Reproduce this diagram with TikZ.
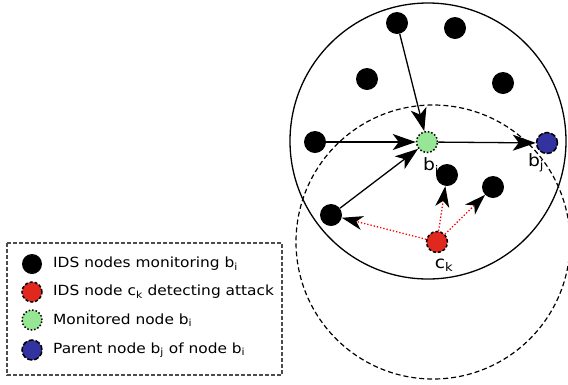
\documentclass[tikz,border=0pt]{standalone}
\usepackage{fontspec}
\setmainfont{DejaVu Sans}
\newfontfamily\widefont[FakeStretch=1.1]{DejaVu Sans}
\usetikzlibrary{arrows.meta}
\definecolor{ngreen}{RGB}{150,230,150}
\definecolor{nred}{RGB}{225,40,30}
\definecolor{nblue}{RGB}{50,50,160}
\tikzset{
  ids/.style={circle,fill=black,minimum size=22pt,inner sep=0pt},
  mon/.style={circle,fill=ngreen,draw=black,dotted,line width=1.5pt,minimum size=21pt,inner sep=0pt},
  par/.style={circle,fill=nblue,draw=black,dash pattern=on 5pt off 2pt,line width=1.5pt,minimum size=21pt,inner sep=0pt},
  det/.style={circle,fill=nred,draw=black,dash pattern=on 3pt off 2pt,line width=1.5pt,minimum size=21pt,inner sep=0pt},
  arr/.style={line width=1.3pt,-{Stealth[length=23pt,width=16pt,inset=6pt]}},
  rarr/.style={red,dotted,line width=1.3pt,-{Stealth[black,length=21pt,width=14pt,inset=6pt]}},
  lab/.style={font=\widefont\fontsize{17}{19}\selectfont,inner sep=0pt},
  legtext/.style={font=\widefont\fontsize{14}{16}\selectfont,anchor=west,inner sep=0pt},
}
\begin{document}
\begin{tikzpicture}[x=1pt,y=-1pt]
\useasboundingbox (0,0) rectangle (568,384);
% circles
\draw[line width=1.3pt] (428,141) circle (138);
\draw[line width=1.2pt,dash pattern=on 5pt off 3pt] (433,242) circle (137);
% nodes
\node[ids] (n1) at (397,23) {};
\node[ids] (n2) at (455,28) {};
\node[ids] (n3) at (367,79) {};
\node[ids] (n4) at (503,83) {};
\node[ids] (n5) at (315,142) {};
\node[mon] (bi) at (427,142) {};
\node[par] (bj) at (547,143) {};
\node[ids] (n6) at (447,175) {};
\node[ids] (n7) at (493,187) {};
\node[ids] (n8) at (331,215) {};
\node[det] (ck) at (437,242) {};
% labels
\node[lab] (lbi) at (431,166) {b\textsubscript{i}};
\node[lab] (lbj) at (536,163) {b\textsubscript{j}};
\node[lab] (lck) at (444,265) {c\textsubscript{k}};
% arrows
\draw[arr] (n1) -- (bi);
\draw[arr] (n5) -- (bi);
\draw[arr] (n8) -- (bi);
\draw[arr] (bi) -- (bj);
\draw[rarr] (ck) -- (n8);
\draw[rarr] (ck) -- (n6);
\draw[rarr] (ck) -- (n7);
% legend
\draw[line width=1.1pt,dash pattern=on 4pt off 2pt,draw=black!70] (7,243) rectangle (282,375);
\node[ids,minimum size=20pt] (l1) at (32,264) {};
\node[det,minimum size=20pt] (l2) at (32,292) {};
\node[mon,minimum size=20pt] (l3) at (32,320) {};
\node[par,minimum size=20pt] (l4) at (32,350) {};
\node[legtext] (t1) at (53,264) {IDS nodes monitoring b\textsubscript{i}};
\node[legtext] (t2) at (53,292) {IDS node c\textsubscript{k} detecting attack};
\node[legtext] (t3) at (53,320) {Monitored node b\textsubscript{i}};
\node[legtext] (t4) at (53,350) {Parent node b\textsubscript{j} of node b\textsubscript{i}};
\end{tikzpicture}
\end{document}
